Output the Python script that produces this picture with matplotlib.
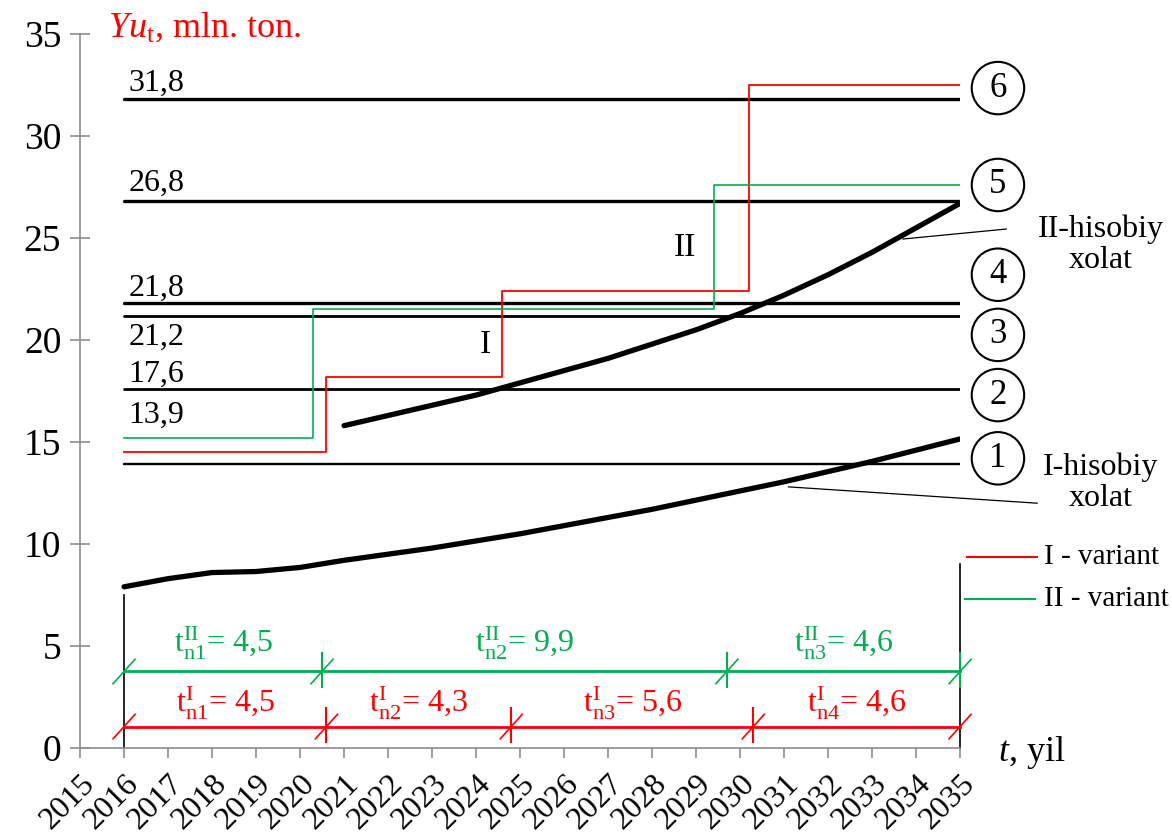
import matplotlib.pyplot as plt

plt.rcParams['font.family'] = ['Liberation Serif', 'DejaVu Serif']
plt.rcParams['mathtext.fontset'] = 'custom'
plt.rcParams['mathtext.rm'] = 'Liberation Serif'
plt.rcParams['mathtext.it'] = 'Liberation Serif:italic'

RED = '#FF0000'
GREEN = '#00B050'

# calculated states (thick black curves)
years_1 = list(range(2016, 2036))
calc_1 = [7.9, 8.3, 8.6, 8.65, 8.85, 9.2, 9.5, 9.8, 10.15, 10.5,
          10.9, 11.3, 11.7, 12.15, 12.6, 13.05, 13.55, 14.05, 14.6, 15.15]
years_2 = list(range(2021, 2036))
calc_2 = [15.8, 16.3, 16.8, 17.3, 17.9, 18.5, 19.1, 19.8, 20.5, 21.3,
          22.2, 23.2, 24.3, 25.5, 26.7]

# capacity levels
levels = [31.8, 26.8, 21.8, 21.2, 17.6, 13.9]
level_labels = ['31,8', '26,8', '21,8', '21,2', '17,6', '13,9']
level_label_y = [32.6, 27.7, 22.55, 20.15, 18.3, 16.3]
level_lw = [2.4, 2.4, 2.4, 2.0, 2.0, 1.7]

# variant step lines
var1_x = [2016, 2020.6, 2024.6, 2030.2, 2035]
var1_y = [14.5, 18.2, 22.4, 32.5]
var2_x = [2016, 2020.3, 2029.4, 2035]
var2_y = [15.2, 21.5, 27.6]

# period dimension lines
dim1_x = [2016, 2020.6, 2024.8, 2030.3, 2035]
dim1_labels = [r'$\mathrm{t}^{\mathrm{I}}_{\mathrm{n1}}$= 4,5',
               r'$\mathrm{t}^{\mathrm{I}}_{\mathrm{n2}}$= 4,3',
               r'$\mathrm{t}^{\mathrm{I}}_{\mathrm{n3}}$= 5,6',
               r'$\mathrm{t}^{\mathrm{I}}_{\mathrm{n4}}$= 4,6']
dim2_x = [2016, 2020.5, 2029.7, 2035]
dim2_labels = [r'$\mathrm{t}^{\mathrm{II}}_{\mathrm{n1}}$= 4,5',
               r'$\mathrm{t}^{\mathrm{II}}_{\mathrm{n2}}$= 9,9',
               r'$\mathrm{t}^{\mathrm{II}}_{\mathrm{n3}}$= 4,6']

circle_nums = ['6', '5', '4', '3', '2', '1']
circle_y = [32.35, 27.6, 23.2, 20.25, 17.3, 14.2]

fig = plt.figure(figsize=(11.72, 8.36), dpi=100)
ax = fig.add_axes([0.0683, 0.1053, 0.7509, 0.854])
ax.set_xlim(2015, 2035)
ax.set_ylim(0, 35)

for sp in ['top', 'right']:
    ax.spines[sp].set_visible(False)
for sp in ['left', 'bottom']:
    ax.spines[sp].set_color('#8c8c8c')
    ax.spines[sp].set_linewidth(1.2)

ax.set_xticks(range(2015, 2036))
ax.set_xticklabels([str(y) for y in range(2015, 2036)], rotation=45,
                   ha='right', rotation_mode='anchor', fontsize=23)
ax.set_yticks(range(0, 36, 5))
ax.tick_params(axis='y', direction='inout', length=15, width=1.2,
               color='#8c8c8c', labelsize=27, pad=6)
ax.tick_params(axis='x', direction='out', length=7, width=1.2,
               color='#8c8c8c', pad=8)

# levels
for lv, lab, ly, lw in zip(levels, level_labels, level_label_y, level_lw):
    ax.plot([2016, 2035], [lv, lv], color='black', lw=lw, solid_capstyle='round')
    ax.text(2016.1, ly, lab, fontsize=23, ha='left', va='center')

# steps
ax.step(var1_x, var1_y + [var1_y[-1]], where='post', color=RED, lw=1.3)
ax.step(var2_x, var2_y + [var2_y[-1]], where='post', color=GREEN, lw=1.2)

# curves
ax.plot(years_1, calc_1, color='black', lw=3.8, solid_capstyle='round',
        solid_joinstyle='round')
ax.plot(years_2, calc_2, color='black', lw=3.8, solid_capstyle='round',
        solid_joinstyle='round')

# boundary verticals
ax.plot([2016, 2016], [0, 7.5], color='black', lw=1.2)
ax.plot([2035, 2035], [0, 9.0], color='black', lw=1.2, clip_on=False)


def dimension(xs, y, color, labels, label_y, end_vertical):
    ax.plot([xs[0], xs[-1]], [y, y], color=color, lw=2, clip_on=False)
    for i, x in enumerate(xs):
        ax.plot([x - 0.25, x + 0.25], [y - 0.6, y + 0.6], color=color, lw=1.2,
                clip_on=False)
        if 0 < i < len(xs) - 1 or (i == len(xs) - 1 and end_vertical):
            ax.plot([x, x], [y - 0.75, y + 0.9], color=color, lw=1.5,
                    clip_on=False)
    for a, b, lab in zip(xs[:-1], xs[1:], labels):
        ax.text((a + b) / 2, label_y, lab, color=color, fontsize=23,
                ha='center', va='center')


dimension(dim2_x, 3.75, GREEN, dim2_labels, 5.15, True)
dimension(dim1_x, 1.05, RED, dim1_labels, 2.2, False)

# circled numbers
for n, cy in zip(circle_nums, circle_y):
    ax.text(2035.86, cy, n, fontsize=25, ha='center', va='center', clip_on=False,
            bbox=dict(boxstyle='circle,pad=0.28', fc='white', ec='black', lw=1.5))

# calculated state annotations
ax.plot([2036.05, 2033.7], [25.44, 24.95], color='black', lw=0.9, clip_on=False)
ax.text(2038.2, 24.67, 'II-hisobiy\nxolat', fontsize=23, ha='center', va='center',
        linespacing=1.1)
ax.plot([2031.1, 2036.75], [12.8, 12.0], color='black', lw=0.9, clip_on=False)
ax.text(2038.2, 13.0, 'I-hisobiy\nxolat', fontsize=23, ha='center', va='center',
        linespacing=1.1)

ax.text(2028.75, 24.5, 'II', fontsize=24, ha='center', va='center')
ax.text(2024.2, 19.75, 'I', fontsize=24, ha='center', va='center')

# legend
ax.plot([2035.15, 2036.75], [9.36, 9.36], color=RED, lw=1.5, clip_on=False)
ax.text(2036.9, 9.36, 'I - variant', fontsize=21, ha='left', va='center')
ax.plot([2035.1, 2036.7], [7.3, 7.3], color=GREEN, lw=1.5, clip_on=False)
ax.text(2036.9, 7.3, 'II - variant', fontsize=21, ha='left', va='center')

# axis titles
ax.text(2015.64, 35.3, r'$\mathit{Yu}_{\mathrm{t}}$, mln. ton.', color=RED,
        fontsize=26, ha='left', va='center')
ax.text(2035.85, -0.2, r'$\mathit{t}$, yil', fontsize=26, ha='left', va='center')

fig.savefig('out.png', dpi=100)
